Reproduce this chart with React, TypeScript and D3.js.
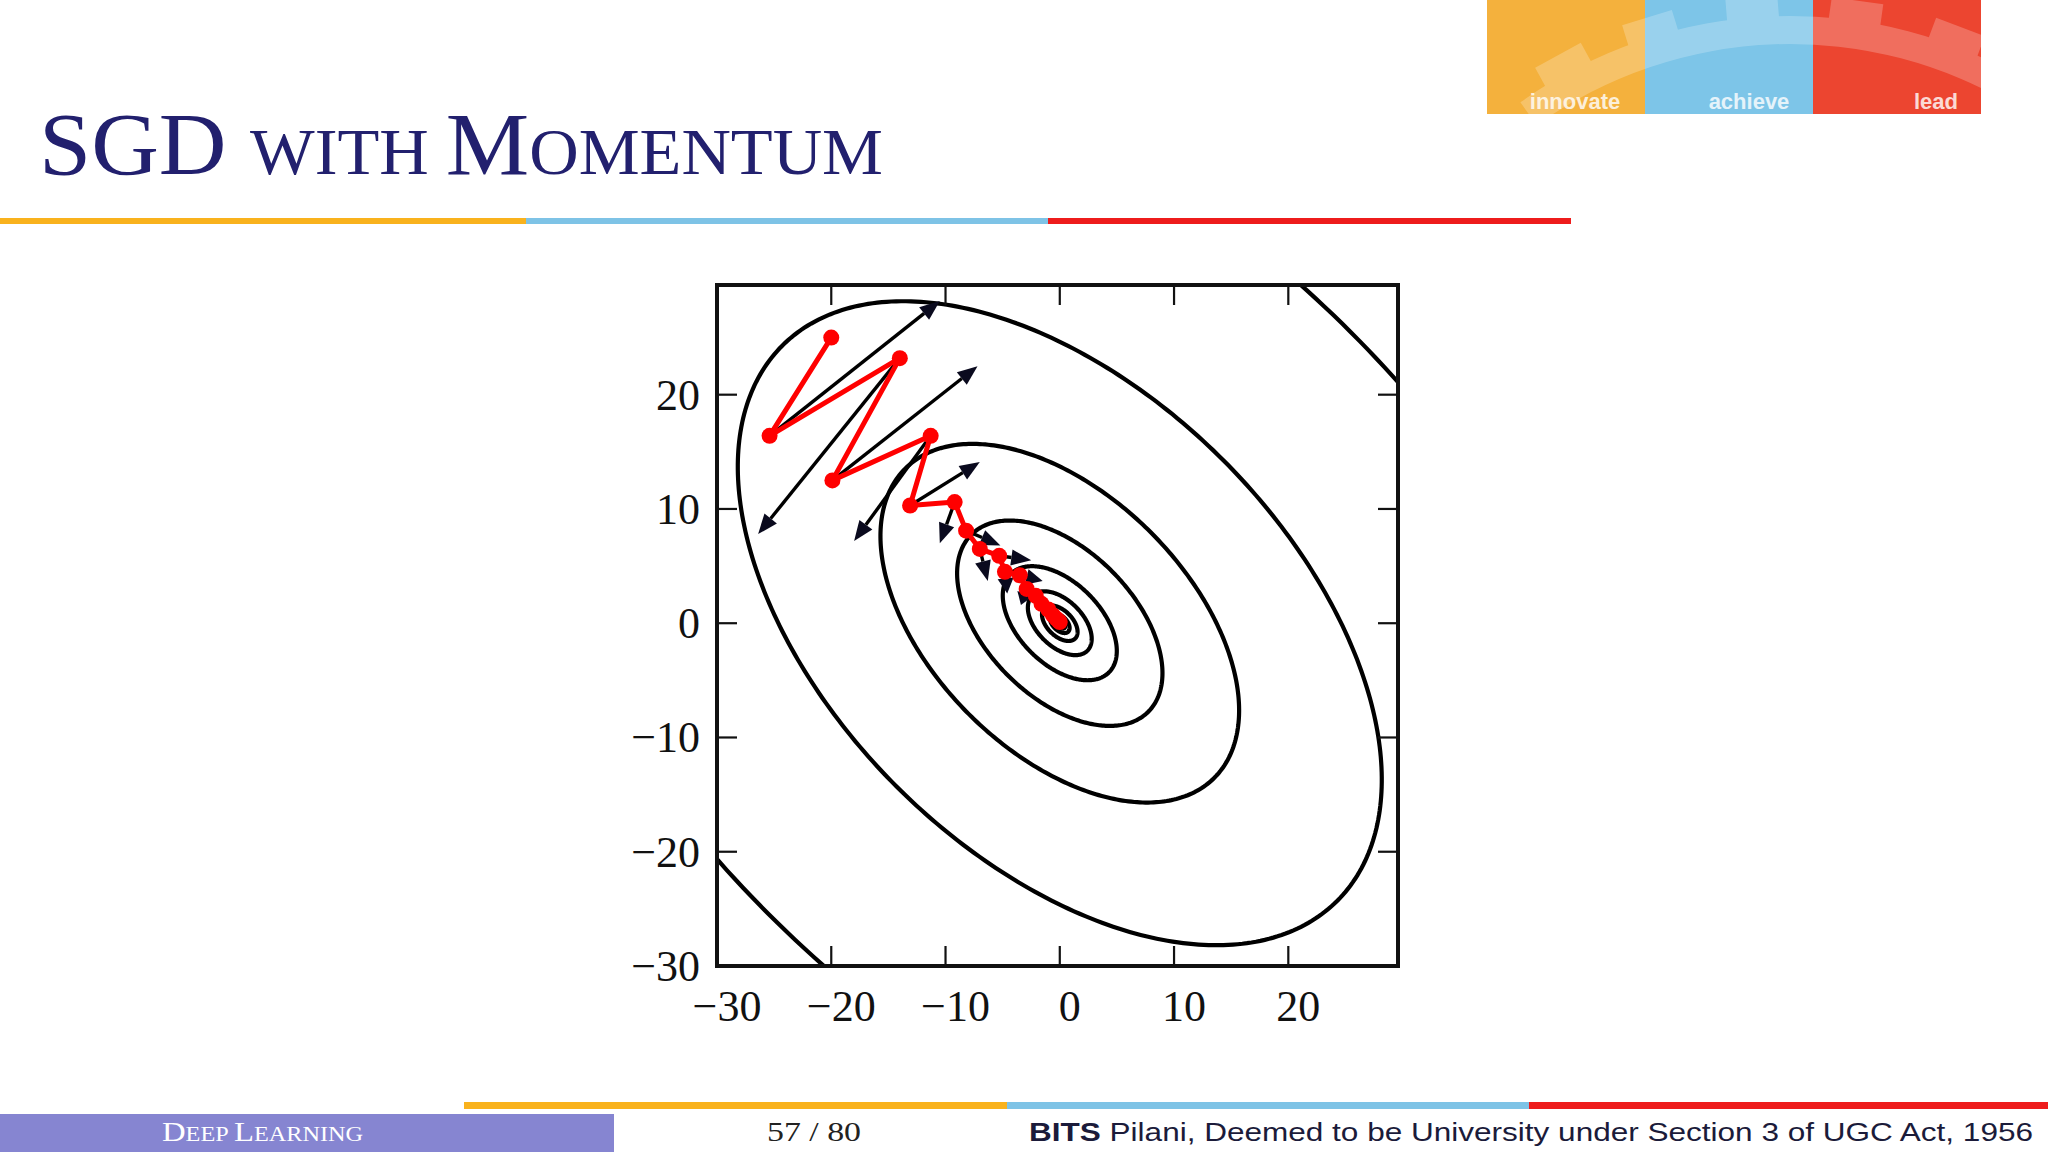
import * as d3 from 'd3'

// plot window in data units
const X_DOMAIN = [-30, 29.6]
const Y_DOMAIN = [-30, 29.6]
const X_TICKS = [-30, -20, -10, 0, 10, 20]
const Y_TICKS = [-30, -20, -10, 0, 10, 20]

// quadratic loss: curvature along the valley (1,-1) and across it (1,1)
const CURV_ALONG = 1
const CURV_ACROSS = 2.89
const LEVELS = [3750, 1180, 366, 120, 37, 11.6, 3.6, 1.1, 0.35]

// momentum path (red)
const PATH_X = [-20, -25.4, -14, -19.9, -11.3, -13.1, -9.2, -8.2, -7.0, -5.3, -4.8, -3.5, -2.9, -2.1, -1.6, -1.0, -0.6, -0.3, -0.1, 0]
const PATH_Y = [25, 16.4, 23.2, 12.5, 16.4, 10.3, 10.6, 8.1, 6.5, 5.9, 4.5, 4.2, 3.0, 2.4, 1.7, 1.2, 0.7, 0.4, 0.2, 0.1]

// gradient step arrows (black): start point index and tip
const ARROW_FROM = [1, 2, 3, 4, 5, 6, 7, 8, 9, 10, 11, 12]
const ARROW_TIP_X = [-10.5, -26.4, -7.2, -18.0, -7.0, -10.5, -5.2, -6.3, -2.5, -4.6, -1.5, -3.4]
const ARROW_TIP_Y = [28.2, 7.8, 22.5, 7.2, 14.1, 7.0, 6.8, 3.7, 5.5, 2.6, 3.7, 1.6]

const W = 2048
const H = 1152
const PLOT = { left: 717, right: 1398, top: 285, bottom: 966 }

const HEADER_BAR = ['#F9B21D', '#7EC3E6', '#EE1C1C']
const LOGO = ['#F4B13D', '#7DC5E8', '#EC4530']
const LOGO_WORDS = ['innovate', 'achieve', 'lead']

const x = d3.scaleLinear(X_DOMAIN, [PLOT.left, PLOT.right])
const y = d3.scaleLinear(Y_DOMAIN, [PLOT.bottom, PLOT.top])

function ellipse(level: number) {
  const a = Math.sqrt(level / CURV_ALONG)
  const b = Math.sqrt(level / CURV_ACROSS)
  const pts = d3.range(0, 361).map((deg) => {
    const t = (deg * Math.PI) / 180
    const u = a * Math.cos(t)
    const v = b * Math.sin(t)
    return [(u + v) / Math.SQRT2, (v - u) / Math.SQRT2] as [number, number]
  })
  return d3.line<[number, number]>((d) => x(d[0]), (d) => y(d[1])).curve(d3.curveLinearClosed)(pts)
}

function Arrow({ i }: { i: number }) {
  const k = ARROW_FROM[i]
  const x0 = x(PATH_X[k])
  const y0 = y(PATH_Y[k])
  const x1 = x(ARROW_TIP_X[i])
  const y1 = y(ARROW_TIP_Y[i])
  const len = Math.hypot(x1 - x0, y1 - y0)
  const ux = (x1 - x0) / len
  const uy = (y1 - y0) / len
  const hl = Math.min(20, len * 0.7)
  const hw = 8
  const bx = x1 - ux * hl
  const by = y1 - uy * hl
  return (
    <g>
      <line x1={x0} y1={y0} x2={bx} y2={by} stroke="#000" strokeWidth={3.4} />
      <polygon
        points={`${x1},${y1} ${bx - uy * hw},${by + ux * hw} ${bx + uy * hw},${by - ux * hw}`}
        fill="#0a0a1e"
      />
    </g>
  )
}

function Logo() {
  const x0 = 1487
  const widths = [158, 168, 168]
  const arc = d3.arc()({ innerRadius: 436, outerRadius: 464, startAngle: -0.62, endAngle: 0.55 })
  let acc = x0
  return (
    <g>
      <clipPath id="logo-clip">
        <rect x={x0} y={0} width={494} height={114} />
      </clipPath>
      {widths.map((w, i) => {
        const r = <rect key={i} x={acc} y={0} width={w} height={114} fill={LOGO[i]} />
        acc += w
        return r
      })}
      <g clipPath="url(#logo-clip)" fill="#fff" opacity={0.22}>
        <path d={arc!} transform="translate(1790,480)" />
        {[-0.5, -0.3, -0.08, 0.14, 0.36].map((ang) => (
          <rect
            key={ang}
            x={-26}
            y={-484}
            width={52}
            height={30}
            transform={`translate(1790,480) rotate(${(ang * 180) / Math.PI})`}
          />
        ))}
      </g>
      <g fontFamily="Liberation Sans, Arial, sans-serif" fontWeight="bold" fontSize={22} fill="#fff" opacity={0.8}>
        <text x={1575} y={109} textAnchor="middle">{LOGO_WORDS[0]}</text>
        <text x={1749} y={109} textAnchor="middle">{LOGO_WORDS[1]}</text>
        <text x={1936} y={109} textAnchor="middle">{LOGO_WORDS[2]}</text>
      </g>
    </g>
  )
}

export default function App() {
  const ink = '#111'
  const tickLen = 20
  return (
    <svg width={W} height={H} style={{ position: 'absolute', left: 0, top: 0, background: '#fff' }}>
      <rect width={W} height={H} fill="#fff" />
      <Logo />
      {/* title */}
      <text x={39} y={174} fontFamily="Liberation Serif, serif" fontSize={89} fill="#22206e" textLength={844} lengthAdjust="spacingAndGlyphs">
        <tspan>SGD </tspan>
        <tspan fontSize={65}>WITH </tspan>
        <tspan>M</tspan>
        <tspan fontSize={65}>OMENTUM</tspan>
      </text>
      <rect x={0} y={218} width={526} height={6} fill={HEADER_BAR[0]} />
      <rect x={526} y={218} width={522} height={6} fill={HEADER_BAR[1]} />
      <rect x={1048} y={218} width={523} height={6} fill={HEADER_BAR[2]} />

      {/* chart */}
      <clipPath id="plot-clip">
        <rect x={PLOT.left} y={PLOT.top} width={PLOT.right - PLOT.left} height={PLOT.bottom - PLOT.top} />
      </clipPath>
      <g clipPath="url(#plot-clip)">
        {LEVELS.map((l) => (
          <path key={l} d={ellipse(l)!} fill="none" stroke="#000" strokeWidth={4.2} />
        ))}
        {ARROW_FROM.map((_, i) => (
          <Arrow key={i} i={i} />
        ))}
        <path
          d={d3.line<number>((_, i) => x(PATH_X[i]), (_, i) => y(PATH_Y[i]))(PATH_X)!}
          fill="none"
          stroke="#f00"
          strokeWidth={5}
          strokeLinejoin="round"
        />
        {PATH_X.map((px, i) => (
          <circle key={i} cx={x(px)} cy={y(PATH_Y[i])} r={8} fill="#f00" />
        ))}
      </g>
      <g stroke={ink} strokeWidth={2.2}>
        {X_TICKS.filter((t) => t > X_DOMAIN[0]).map((t) => (
          <g key={t}>
            <line x1={x(t)} x2={x(t)} y1={PLOT.bottom} y2={PLOT.bottom - tickLen} />
            <line x1={x(t)} x2={x(t)} y1={PLOT.top} y2={PLOT.top + tickLen} />
          </g>
        ))}
        {Y_TICKS.filter((t) => t > Y_DOMAIN[0]).map((t) => (
          <g key={t}>
            <line y1={y(t)} y2={y(t)} x1={PLOT.left} x2={PLOT.left + tickLen} />
            <line y1={y(t)} y2={y(t)} x1={PLOT.right} x2={PLOT.right - tickLen} />
          </g>
        ))}
      </g>
      <rect
        x={PLOT.left}
        y={PLOT.top}
        width={PLOT.right - PLOT.left}
        height={PLOT.bottom - PLOT.top}
        fill="none"
        stroke={ink}
        strokeWidth={4}
      />
      <g fontFamily="Liberation Serif, serif" fontSize={44} fill={ink}>
        {X_TICKS.map((t) => (
          <text key={t} x={x(t) + 10} y={1021} textAnchor="middle">
            {t < 0 ? `\u2212${-t}` : t}
          </text>
        ))}
        {Y_TICKS.map((t) => (
          <text key={t} x={700} y={y(t) + 15} textAnchor="end">
            {t < 0 ? `\u2212${-t}` : t}
          </text>
        ))}
      </g>

      {/* footer */}
      <rect x={464} y={1102} width={543} height={7} fill={HEADER_BAR[0]} />
      <rect x={1007} y={1102} width={522} height={7} fill={HEADER_BAR[1]} />
      <rect x={1529} y={1102} width={519} height={7} fill={HEADER_BAR[2]} />
      <rect x={0} y={1114} width={614} height={38} fill="#8685d1" />
      <text x={162} y={1141} fontFamily="Liberation Serif, serif" fontSize={27} fill="#fff" textLength={201} lengthAdjust="spacingAndGlyphs">
        <tspan>D</tspan>
        <tspan fontSize={20}>EEP </tspan>
        <tspan>L</tspan>
        <tspan fontSize={20}>EARNING</tspan>
      </text>
      <text x={767} y={1141} fontFamily="Liberation Serif, serif" fontSize={28} fill="#222" textLength={94} lengthAdjust="spacingAndGlyphs">
        57 / 80
      </text>
      <text x={1029} y={1141} fontFamily="Liberation Sans, Arial, sans-serif" fontSize={26} fill="#1b1b3a" textLength={1004} lengthAdjust="spacingAndGlyphs">
        <tspan fontWeight="bold">BITS</tspan> Pilani, Deemed to be University under Section 3 of UGC Act, 1956
      </text>
    </svg>
  )
}
